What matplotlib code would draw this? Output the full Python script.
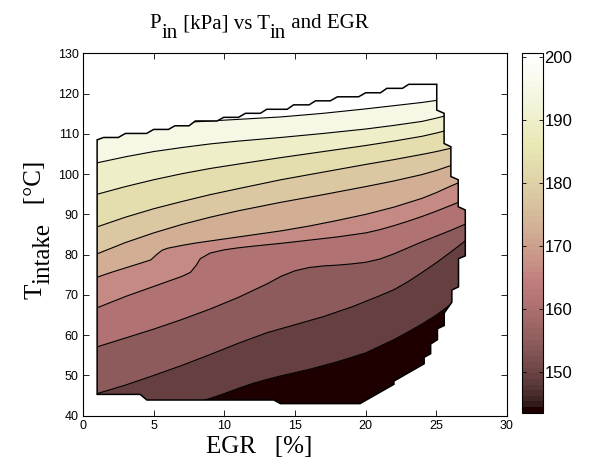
import numpy as np
import matplotlib.pyplot as plt
from matplotlib.patches import Polygon
from matplotlib.colors import Normalize
from matplotlib.cm import ScalarMappable
from matplotlib.transforms import IdentityTransform

# =========================
# DATA
# =========================

# colour scale of the bar
P_MIN = 143.5
P_MAX = 200.7
# contour levels [kPa], one per line below
LEVELS = [149.2, 154.9, 160.6, 166.4, 172.1, 177.8, 183.5, 189.3, 195.0, 200.7]

# contour lines, lowest level first: EGR [%] and T_intake [degC]
line1_egr = [0, 7, 8, 9, 10, 11, 12, 13, 14, 16, 18, 20, 22, 23, 24, 25, 26, 27, 28]
line1_t = [41, 42.6, 43.3, 44.3, 45.5, 46.8, 48.0, 49.0, 49.9, 51.5, 53.4, 55.6, 58.9, 60.8, 62.8, 65.0, 67.6, 70.5, 73]

line2_egr = [0, 1, 3, 5, 7, 9, 11, 13, 15, 17, 19, 21, 22, 23, 24, 25, 26, 27, 28]
line2_t = [44.6, 45.5, 47.6, 50.0, 52.5, 55.2, 58.0, 60.6, 62.6, 64.6, 67.0, 69.8, 71.3, 73.3, 75.6, 78.0, 80.6, 83.3, 86]

line3_egr = [0, 1, 3, 5, 7, 9, 11, 13, 14, 15, 16, 17, 18, 19, 20, 21, 22, 23, 24, 25, 26, 27, 28]
line3_t = [56.0, 57.1, 59.3, 61.5, 63.9, 66.5, 69.4, 72.7, 74.6, 76.0, 76.8, 77.2, 77.4, 77.7, 78.1, 78.9, 80.2, 81.7, 83.2, 84.6, 86.0, 87.5, 89]

line4_egr = [0, 1, 3, 5, 7, 7.6, 8.0, 8.3, 9, 10, 11, 12, 14, 16, 18, 20, 21, 22, 23, 24, 25, 26, 27, 28]
line4_t = [65.4, 66.8, 69.6, 72.1, 74.6, 75.6, 77.3, 79.0, 80.4, 81.2, 81.7, 82.1, 82.8, 83.6, 84.4, 85.4, 86.2, 87.2, 88.3, 89.5, 90.8, 92.2, 93.6, 95]

line5_egr = [0, 1, 2, 3, 4, 4.8, 5.2, 5.6, 6, 7, 8, 9, 10, 12, 14, 16, 18, 20, 22, 24, 25, 26, 27, 28]
line5_t = [73.2, 74.4, 75.6, 76.7, 77.8, 78.7, 80.0, 81.1, 81.6, 82.3, 82.9, 83.4, 83.9, 84.9, 85.9, 87.1, 88.5, 90.0, 91.8, 94.0, 95.4, 97.0, 98.5, 100]

line6_egr = [0, 1, 3, 5, 7, 9, 11, 14, 17, 20, 22, 24, 25, 26, 27, 28]
line6_t = [78.7, 80.2, 83.0, 85.4, 87.5, 89.3, 90.9, 93.0, 94.9, 96.9, 98.3, 99.9, 100.9, 102.1, 103.4, 104.7]

line7_egr = [0, 1, 3, 5, 7, 9, 11, 14, 17, 20, 22, 24, 25, 26, 27, 28]
line7_t = [85.6, 86.9, 89.3, 91.4, 93.2, 94.9, 96.4, 98.6, 100.5, 102.4, 103.6, 104.9, 105.6, 106.4, 107.4, 108.4]

line8_egr = [0, 1, 3, 5, 7, 9, 11, 14, 17, 20, 22, 24, 25, 26, 27, 28]
line8_t = [94.0, 95.0, 96.9, 98.6, 100.1, 101.4, 102.5, 104.1, 105.6, 107.1, 108.2, 109.4, 110.2, 111.1, 112, 113]

line9_egr = [0, 1, 3, 5, 7, 9, 11, 14, 17, 20, 22, 24, 25, 26, 27, 28]
line9_t = [102.0, 102.8, 104.3, 105.6, 106.6, 107.5, 108.2, 109.1, 110.1, 111.2, 112.1, 113.1, 113.9, 114.8, 115.7, 116.6]

line10_egr = [0, 7, 8, 10, 12, 14, 17, 20, 22, 24, 25, 26, 28]
line10_t = [112.8, 112.8, 113.0, 113.4, 113.8, 114.2, 115.1, 116.2, 117.0, 117.8, 118.3, 118.8, 119.8]

# edge of the measured region (stepped grid boundary), clockwise
edge_egr = [1, 1, 1.45, 2.5, 3, 4.5, 5, 6.05, 6.5, 7.5, 7.95, 9.5, 9.95, 11, 11.5, 12.55, 13,
            14.45, 14.9, 16, 16.45, 17.5, 18, 19.5, 20, 21.05, 21.5, 22.6, 23.05, 25.03,
            25.03, 25.55, 25.55, 26.03, 26.03, 26.55, 26.55, 27.05, 27.05, 26.57, 26.57,
            26.1, 26.1, 25.56, 25.56, 25.08, 25.08, 24.6, 24.6, 24.14, 24.14, 22.0, 22.0,
            19.6, 13.97, 13.5, 4.52, 4.04]
edge_t = [45.3, 108.5, 109.1, 109.1, 110.1, 110.1, 111.1, 111.1, 112.0, 112.0, 113.2, 113.2,
          114.1, 114.1, 115.1, 115.1, 116.1, 116.1, 117.2, 117.2, 118.2, 118.2, 119.2, 119.2,
          120.2, 120.2, 121.3, 121.3, 122.3, 122.3, 115.9, 115.1, 107.6, 106.8, 99.4, 98.6,
          91.9, 91.1, 79.7, 79.0, 72.0, 71.2, 68.2, 65.5, 62.4, 61.6, 58.9, 57.8, 55.4, 54.5,
          52.9, 48.6, 47.8, 43.0, 43.0, 43.9, 43.9, 45.3]

lines = [
    (line1_egr, line1_t), (line2_egr, line2_t), (line3_egr, line3_t),
    (line4_egr, line4_t), (line5_egr, line5_t), (line6_egr, line6_t),
    (line7_egr, line7_t), (line8_egr, line8_t), (line9_egr, line9_t),
    (line10_egr, line10_t),
]

# =========================
# STYLE
# =========================

plt.rcParams['font.family'] = 'Liberation Sans'
SERIF = 'Liberation Serif'

cmap = plt.get_cmap('pink', 64)
norm = Normalize(P_MIN, P_MAX)

fig = plt.figure(figsize=(5.92, 4.66), dpi=100)
ax = fig.add_axes([0.1402, 0.1079, 0.7162, 0.7777])
cax = fig.add_axes([0.8818, 0.1145, 0.0355, 0.7718])
renderer = fig.canvas.get_renderer()


def text_width(s, size):
    # advance width in pixels, spaces included
    t = fig.text(0, 0, 'x' + s + 'x', fontsize=size, family=SERIF)
    t2 = fig.text(0, 0, 'xx', fontsize=size, family=SERIF)
    w = t.get_window_extent(renderer).width - t2.get_window_extent(renderer).width
    t.remove()
    t2.remove()
    return w


def matlab_text(cx, cy, pieces, size, rotation=0):
    # pieces: (text, drop in px) -> subscripts written like MATLAB's tex
    widths = [text_width(s, size) for s, _ in pieces]
    pos = -sum(widths) / 2
    for (s, drop), w in zip(pieces, widths):
        if rotation == 0:
            xy = (cx + pos, cy - drop)
        else:
            xy = (cx + drop, cy + pos)
        fig.text(xy[0], xy[1], s, fontsize=size, family=SERIF, rotation=rotation,
                 rotation_mode='anchor', ha='left', va='baseline',
                 transform=IdentityTransform())
        pos += w


# =========================
# FILLED CONTOURS
# =========================

edge = Polygon(np.column_stack([edge_egr, edge_t]), closed=True,
               facecolor='none', edgecolor='black', linewidth=1.1, zorder=4)
ax.add_patch(edge)

band_values = [P_MIN] + LEVELS
for k in range(len(band_values)):
    if k == 0:
        lo_x, lo_y = [0, 28], [30, 30]
    else:
        lo_x, lo_y = lines[k - 1]
    if k == len(lines):
        hi_x, hi_y = [0, 28], [140, 140]
    else:
        hi_x, hi_y = lines[k]
    px = list(lo_x) + list(hi_x)[::-1]
    py = list(lo_y) + list(hi_y)[::-1]
    c = cmap(norm(band_values[k]))
    band = ax.fill(px, py, color=c, linewidth=0.3, edgecolor=c, zorder=1)[0]
    band.set_clip_path(edge)

for lx, ly in lines:
    ln, = ax.plot(lx, ly, color='black', linewidth=0.8, zorder=3)
    ln.set_clip_path(edge)

# =========================
# AXES
# =========================

ax.set_xlim(0, 30)
ax.set_ylim(40, 130)
ax.set_xticks(range(0, 31, 5))
ax.set_yticks(range(40, 131, 10))
ax.tick_params(direction='in', top=True, right=True, length=4, width=0.6,
               labelsize=9, pad=3)
for s in ax.spines.values():
    s.set_linewidth(0.8)

ax.set_xlabel('EGR   [%]', family=SERIF, fontsize=18)
ax.xaxis.set_label_coords(0.415, -0.055)

# title and y label with MATLAB-like subscripts (pixel positions, origin bottom-left)
matlab_text(259, 438, [('P', 0), ('in', 10), (' [kPa] vs T', 0), ('in', 10), (' and EGR', 0)], 15)
matlab_text(41, 236, [('T', 0), ('intake', 8), ('   [°C]', 0)], 18, rotation=90)

# =========================
# COLORBAR
# =========================

cb = fig.colorbar(ScalarMappable(norm=norm, cmap=cmap), cax=cax,
                  ticks=[150, 160, 170, 180, 190, 200])
cax.tick_params(direction='in', left=True, right=True, length=3, width=0.6,
                labelsize=12, pad=1)
cb.outline.set_linewidth(0.8)

plt.savefig('out.png', dpi=100)
